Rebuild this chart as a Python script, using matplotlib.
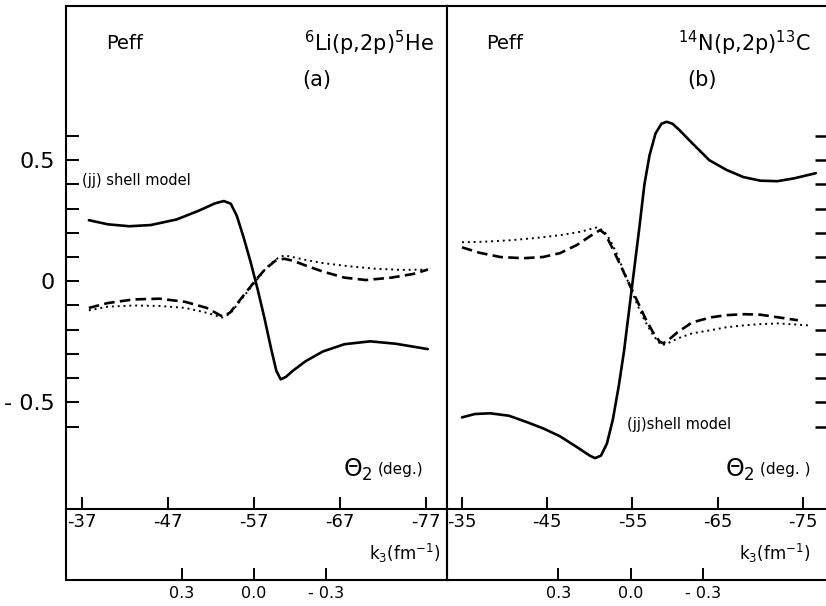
import numpy as np
import matplotlib.pyplot as plt

# === panel (a): 6Li(p,2p)5He ===
theta_a_solid = [-37.8, -40, -42.5, -45, -48, -50.5, -52.5, -53.5, -54.3, -55.0, -55.8, -56.6, -57.4,
                 -58.2, -59.0, -59.6, -60.1, -60.7, -61.5, -63, -65, -67.5, -70.5, -73.5, -77.2]
peff_a_solid = [0.252, 0.235, 0.227, 0.232, 0.255, 0.29, 0.322, 0.331, 0.32, 0.27, 0.18, 0.08, -0.03,
                -0.15, -0.28, -0.37, -0.405, -0.395, -0.37, -0.33, -0.29, -0.26, -0.248, -0.258, -0.28]

theta_a_dash = [-37.8, -40, -43, -46, -49, -51.5, -53.3, -54.2, -55.2, -56.2, -57.2, -58.3, -59.5,
                -60.5, -61.5, -63, -65, -67.5, -70, -73, -75.5, -77.2]
peff_a_dash = [-0.11, -0.09, -0.075, -0.072, -0.085, -0.11, -0.145, -0.13, -0.085, -0.04, 0.005, 0.05,
               0.085, 0.093, 0.085, 0.065, 0.04, 0.015, 0.005, 0.015, 0.03, 0.048]

theta_a_dot = [-37.8, -40, -43, -46, -49, -51.5, -53.3, -54.2, -55.2, -56.2, -57.2, -58.3, -59.5,
               -60.5, -61.5, -63, -65, -68, -71, -74, -77.2]
peff_a_dot = [-0.12, -0.105, -0.1, -0.102, -0.11, -0.13, -0.15, -0.135, -0.09, -0.045, 0.0, 0.05,
              0.09, 0.107, 0.1, 0.088, 0.075, 0.062, 0.052, 0.047, 0.048]

# === panel (b): 14N(p,2p)13C ===
theta_b_solid = [-35, -36.5, -38.3, -40.5, -42.5, -44.5, -46.5, -48.5, -50.0, -50.6, -51.3, -52.0,
                 -52.7, -53.4, -54.0, -54.6, -55.2, -55.8, -56.4, -57.0, -57.7, -58.4, -59.0, -59.7,
                 -60.5, -62, -64, -66, -68, -70, -72, -74, -76.5]
peff_b_solid = [-0.562, -0.548, -0.545, -0.555, -0.58, -0.607, -0.64, -0.685, -0.72, -0.73, -0.72,
                -0.67, -0.57, -0.43, -0.29, -0.12, 0.05, 0.22, 0.40, 0.52, 0.61, 0.65, 0.658, 0.65,
                0.624, 0.57, 0.50, 0.46, 0.43, 0.415, 0.413, 0.425, 0.446]

theta_b_dash = [-35, -37, -39.5, -42.2, -44.5, -46.5, -48.5, -50.2, -51.2, -51.8, -52.6, -53.4, -54.2,
                -55.0, -55.8, -56.6, -57.4, -58.2, -58.6, -59.3, -60.3, -62, -64.2, -66, -68.1, -70,
                -72.1, -74.4]
peff_b_dash = [0.14, 0.118, 0.10, 0.095, 0.10, 0.116, 0.15, 0.19, 0.211, 0.195, 0.14, 0.08, 0.02,
               -0.04, -0.10, -0.16, -0.21, -0.25, -0.256, -0.24, -0.21, -0.17, -0.149, -0.14, -0.136,
               -0.138, -0.149, -0.161]

theta_b_dot = [-35, -37.5, -40.6, -43.5, -46.5, -49, -50.9, -51.7, -52.4, -53.2, -54.0, -54.8, -55.6,
               -56.4, -57.2, -58.0, -58.5, -59.2, -60.3, -62, -64.2, -66, -68.1, -70, -72.1, -75.6]
peff_b_dot = [0.161, 0.163, 0.169, 0.178, 0.19, 0.205, 0.223, 0.205, 0.169, 0.11, 0.04, -0.03, -0.10,
              -0.16, -0.21, -0.25, -0.264, -0.255, -0.236, -0.215, -0.202, -0.19, -0.182, -0.177,
              -0.174, -0.182]

# === ticks ===
theta_ticks_a = [-37, -47, -57, -67, -77]
theta_ticks_b = [-35, -45, -55, -65, -75]
theta_labels_a = ["-37", "-47", "-57", "-67", "-77"]
theta_labels_b = ["-35", "-45", "-55", "-65", "-75"]
k3_ticks = [0.3, 0.0, -0.3]
k3_labels = ["0.3", "0.0", "- 0.3"]
peff_ticks = [-0.5, 0.0, 0.5]
peff_labels = ["- 0.5", "0", "0.5"]
peff_minor = [-0.6, -0.4, -0.3, -0.2, -0.1, 0.1, 0.2, 0.3, 0.4, 0.6]

W, H = 826, 606
fig = plt.figure(figsize=(W / 100, H / 100), dpi=100)
plt.rcParams["font.family"] = "DejaVu Sans"

LW = 1.5
YLIM = (-0.94, 1.136)


def frac(x0, x1, y0, y1):
    # pixel box -> figure fraction
    return [x0 / W, 1 - y1 / H, (x1 - x0) / W, (y1 - y0) / H]


def panel(x0, x1, th_lim, k3_lim, th_ticks, th_labels, right_side):
    axk = fig.add_axes(frac(x0, x1, 509, 580))
    ax = fig.add_axes(frac(x0, x1, 6, 509))
    axk.patch.set_visible(False)
    ax.set_xlim(*th_lim)
    ax.set_ylim(*YLIM)
    axk.set_xlim(*k3_lim)
    axk.set_ylim(0, 1)
    for a in (ax, axk):
        for s in a.spines.values():
            s.set_linewidth(LW)
    axk.spines["top"].set_visible(False)
    if right_side:
        ax.spines["right"].set_visible(False)
        axk.spines["right"].set_visible(False)

    ax.set_xticks(th_ticks)
    ax.set_xticklabels(th_labels)
    ax.tick_params(axis="x", direction="in", length=9, width=1.4, labelsize=13, pad=3)
    ax.set_yticks(peff_ticks)
    ax.set_yticks(peff_minor, minor=True)
    if right_side:
        ax.yaxis.tick_right()
        ax.tick_params(axis="y", which="both", direction="in", length=8, width=1.8,
                       labelright=False)
    else:
        ax.set_yticklabels(peff_labels)
        ax.tick_params(axis="y", which="both", direction="in", length=9, width=1.4,
                       labelsize=16, pad=8)

    axk.set_yticks([])
    axk.set_xticks(k3_ticks)
    axk.set_xticklabels(k3_labels)
    axk.tick_params(axis="x", direction="in", length=9, width=1.4, labelsize=11.5, pad=4)
    return ax, axk


ax_a, axk_a = panel(66, 447, (-35.14, -79.44), (0.783, -0.804),
                    theta_ticks_a, theta_labels_a, False)
ax_b, axk_b = panel(447, 826, (-33.24, -77.7), (0.761, -0.807),
                    theta_ticks_b, theta_labels_b, True)

for ax, curves in [
    (ax_a, [(theta_a_solid, peff_a_solid), (theta_a_dash, peff_a_dash), (theta_a_dot, peff_a_dot)]),
    (ax_b, [(theta_b_solid, peff_b_solid), (theta_b_dash, peff_b_dash), (theta_b_dot, peff_b_dot)]),
]:
    (ts, ps), (td, pd_), (tp, pp) = curves
    ax.plot(ts, ps, color="black", lw=1.9, solid_capstyle="round")
    ax.plot(td, pd_, color="black", lw=1.9, linestyle=(0, (4, 2)))
    ax.plot(tp, pp, color="black", lw=1.4, linestyle=(0, (1, 2)))

# labels, panel (a)
ax_a.text(0.155, 0.926, "Peff", transform=ax_a.transAxes, fontsize=14, ha="center", va="center")
ax_a.text(0.965, 0.926, r"$^{6}$Li(p,2p)$^{5}$He", transform=ax_a.transAxes, fontsize=15,
          ha="right", va="center")
ax_a.text(0.659, 0.853, "(a)", transform=ax_a.transAxes, fontsize=15, ha="center", va="center")
ax_a.text(0.042, 0.654, "(jj) shell model", transform=ax_a.transAxes, fontsize=10.5,
          ha="left", va="center")
ax_a.text(0.728, 0.078, r"$\Theta_2$", transform=ax_a.transAxes, fontsize=17, ha="left", va="center")
ax_a.text(0.818, 0.078, "(deg.)", transform=ax_a.transAxes, fontsize=11, ha="left", va="center")
axk_a.text(0.982, 0.38, r"k$_3$(fm$^{-1}$)", transform=axk_a.transAxes, fontsize=12,
           ha="right", va="center")

# labels, panel (b)
ax_b.text(0.153, 0.926, "Peff", transform=ax_b.transAxes, fontsize=14, ha="center", va="center")
ax_b.text(0.958, 0.926, r"$^{14}$N(p,2p)$^{13}$C", transform=ax_b.transAxes, fontsize=15,
          ha="right", va="center")
ax_b.text(0.673, 0.853, "(b)", transform=ax_b.transAxes, fontsize=15, ha="center", va="center")
ax_b.text(0.475, 0.167, "(jj)shell model", transform=ax_b.transAxes, fontsize=10.5,
          ha="left", va="center")
ax_b.text(0.733, 0.078, r"$\Theta_2$", transform=ax_b.transAxes, fontsize=17, ha="left", va="center")
ax_b.text(0.825, 0.078, "(deg. )", transform=ax_b.transAxes, fontsize=11, ha="left", va="center")
axk_b.text(0.958, 0.38, r"k$_3$(fm$^{-1}$)", transform=axk_b.transAxes, fontsize=12,
           ha="right", va="center")

fig.savefig("out.png", dpi=100)
